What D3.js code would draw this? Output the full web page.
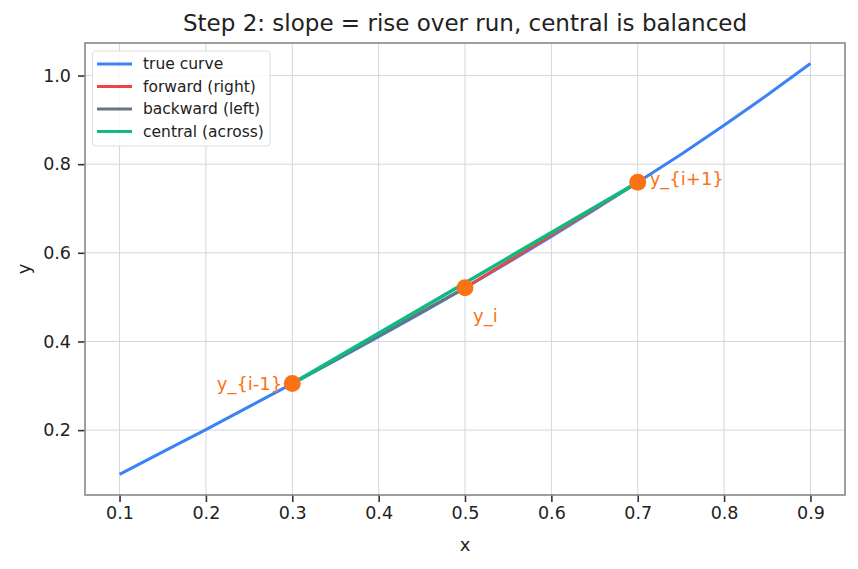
<!DOCTYPE html>
<html><head><meta charset="utf-8">
<script src="https://cdn.jsdelivr.net/npm/d3@7"></script>
<style>body{margin:0;background:#fff}svg{display:block;font-family:"DejaVu Sans",sans-serif}</style>
</head><body><svg id="c" width="858" height="569"></svg>
<script>
// data
const curveX = [0.10,0.15,0.20,0.25,0.30,0.35,0.40,0.45,0.50,0.55,0.60,0.65,0.70,0.75,0.80,0.85,0.90];
const curveY = [0.100,0.151,0.201,0.253,0.305,0.357,0.411,0.465,0.521,0.578,0.637,0.697,0.759,0.822,0.888,0.956,1.027];
const pointX = [0.3,0.5,0.7];
const pointY = [0.305,0.521,0.759];
const pointLabels = ["y_{i-1}","y_i","y_{i+1}"];
const xTicks = [0.1,0.2,0.3,0.4,0.5,0.6,0.7,0.8,0.9];
const yTicks = [0.2,0.4,0.6,0.8,1.0];
const legendLabels = ["true curve","forward (right)","backward (left)","central (across)"];
const colors = {curve:"#3b82f6",fwd:"#ef4444",bwd:"#6b7280",cen:"#10b981",pt:"#f97316"};

const svg = d3.select("#c");
const L=85,R=845,T=43,B=495;
const x = d3.scaleLinear().domain([0.06,0.94]).range([L,R]);
const y = d3.scaleLinear().domain([0.0536,1.0734]).range([B,T]);

// grid
const g = svg.append("g");
g.selectAll(".gx").data(xTicks).join("line").attr("x1",d=>x(d)).attr("x2",d=>x(d)).attr("y1",T).attr("y2",B).attr("stroke","#d4d7dc").attr("stroke-width",1);
g.selectAll(".gy").data(yTicks).join("line").attr("y1",d=>y(d)).attr("y2",d=>y(d)).attr("x1",L).attr("x2",R).attr("stroke","#d4d7dc").attr("stroke-width",1);

// axes
const xa = svg.append("g").attr("transform",`translate(0,${B})`).call(d3.axisBottom(x).tickValues(xTicks).tickFormat(d3.format(".1f")).tickSize(7).tickPadding(5));
const ya = svg.append("g").attr("transform",`translate(${L},0)`).call(d3.axisLeft(y).tickValues(yTicks).tickFormat(d3.format(".1f")).tickSize(7).tickPadding(7));
[xa,ya].forEach(a=>{a.select(".domain").remove();a.selectAll(".tick line").attr("stroke","#333").attr("stroke-width",1.6);a.selectAll(".tick text").attr("fill","#222").style("font-size","17.5px").style("font-family","DejaVu Sans");});

// spines
svg.append("rect").attr("x",L).attr("y",T).attr("width",R-L).attr("height",B-T).attr("fill","none").attr("stroke","#888").attr("stroke-width",1.6);

const line = d3.line().x(d=>x(d[0])).y(d=>y(d[1]));
const curve = curveX.map((v,i)=>[v,curveY[i]]);
const pts = pointX.map((v,i)=>[v,pointY[i]]);
svg.append("path").attr("d",line(curve)).attr("fill","none").attr("stroke",colors.curve).attr("stroke-width",3);
svg.append("path").attr("d",line([pts[1],pts[2]])).attr("fill","none").attr("stroke",colors.fwd).attr("stroke-width",3);
svg.append("path").attr("d",line([pts[0],pts[1]])).attr("fill","none").attr("stroke",colors.bwd).attr("stroke-width",3);
svg.append("path").attr("d",line([pts[0],pts[2]])).attr("fill","none").attr("stroke",colors.cen).attr("stroke-width",3.6);
svg.selectAll(".pt").data(pts).join("circle").attr("cx",d=>x(d[0])).attr("cy",d=>y(d[1])).attr("r",8.5).attr("fill",colors.pt);

const offs=[[-10,6,"end"],[8,34,"start"],[12,3,"start"]];
svg.selectAll(".pl").data(pts).join("text").attr("x",(d,i)=>x(d[0])+offs[i][0]).attr("y",(d,i)=>y(d[1])+offs[i][1]).attr("text-anchor",(d,i)=>offs[i][2]).attr("fill",colors.pt).style("font-size","18px").text((d,i)=>pointLabels[i]);

// title & labels
svg.append("text").attr("x",(L+R)/2).attr("y",31).attr("text-anchor","middle").attr("fill","#222").style("font-size","23px").text("Step 2: slope = rise over run, central is balanced");
svg.append("text").attr("x",(L+R)/2).attr("y",551).attr("text-anchor","middle").attr("fill","#222").style("font-size","18px").text("x");
svg.append("text").attr("transform",`translate(30,${(T+B)/2}) rotate(-90)`).attr("text-anchor","middle").attr("fill","#222").style("font-size","18px").text("y");

// legend
const lg = svg.append("g");
lg.append("rect").attr("x",92.5).attr("y",51).attr("width",177.5).attr("height",95).attr("rx",3).attr("fill","#fff").attr("fill-opacity",0.85).attr("stroke","#ddd");
const lc=[colors.curve,colors.fwd,colors.bwd,colors.cen];
legendLabels.forEach((t,i)=>{
  const yy=64+i*22.5;
  lg.append("line").attr("x1",97).attr("x2",132).attr("y1",yy).attr("y2",yy).attr("stroke",lc[i]).attr("stroke-width",3);
  lg.append("text").attr("x",143).attr("y",yy+5.3).attr("fill","#222").style("font-size","15.5px").text(t);
});
</script></body></html>
